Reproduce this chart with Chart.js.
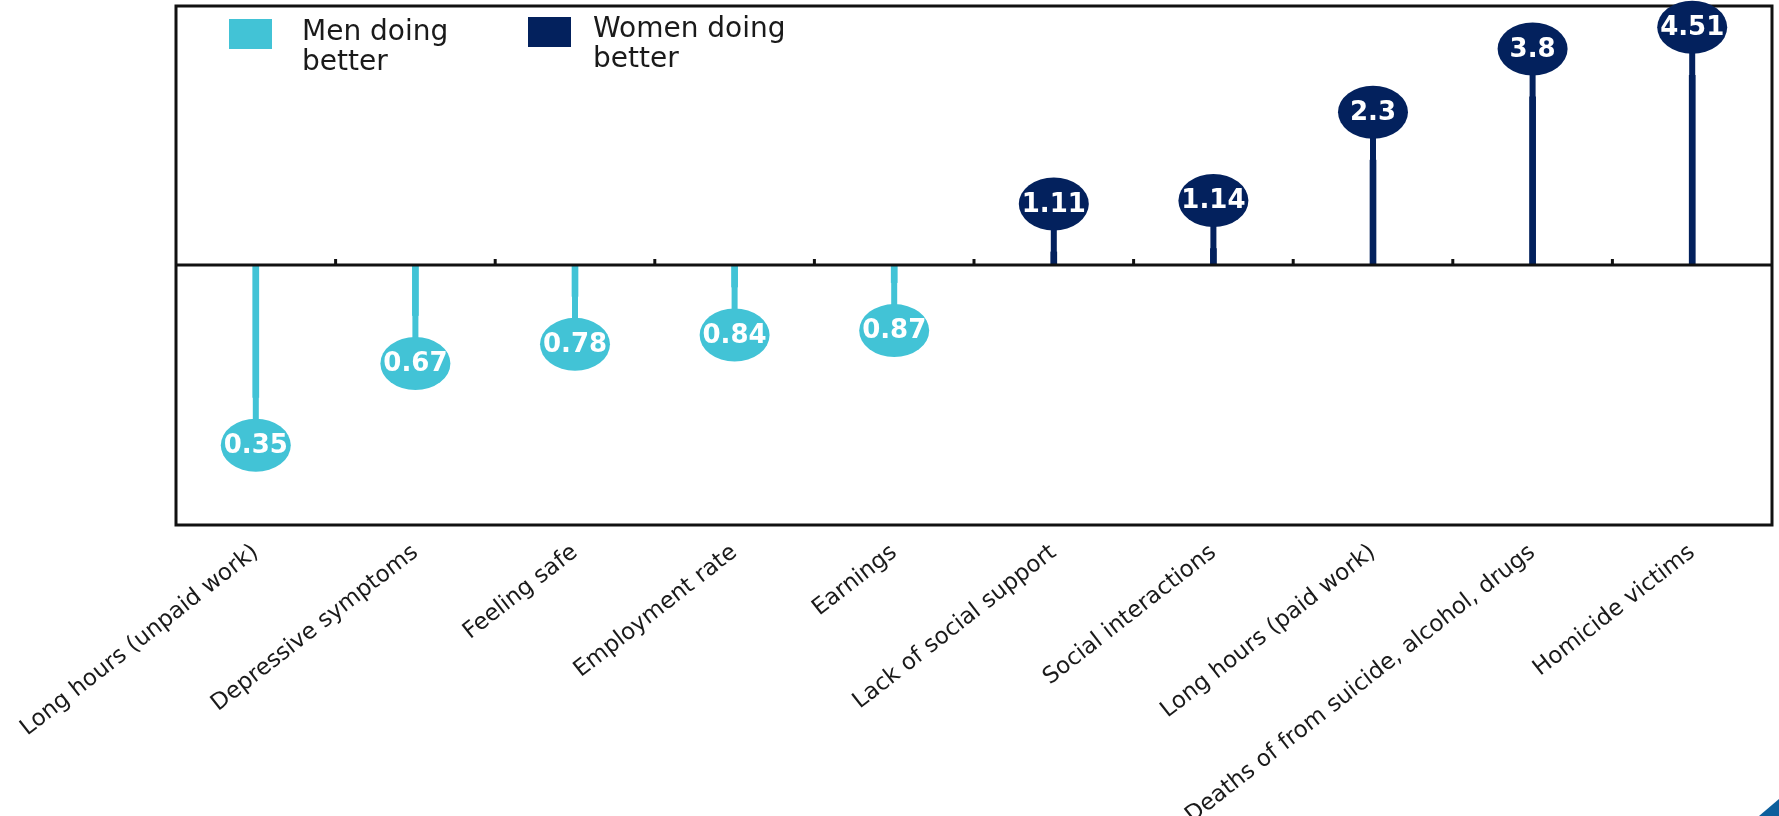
<!DOCTYPE html>
<html lang="en">
<head>
<meta charset="UTF-8" />
<title>Men and women doing better</title>
<script src="https://cdn.jsdelivr.net/npm/chart.js"></script>
<style>
	html, body {
		margin: 0;
		padding: 0;
		background: #ffffff;
	}

	.wrap {
		position: relative;
		width: 1779px;
		height: 816px;
		overflow: hidden;
	}

	.corner {
		position: absolute;
		right: 0;
		bottom: 0;
		width: 0;
		height: 0;
		border-left: 20px solid transparent;
		border-bottom: 17px solid #0d5f9c;
	}
</style>
</head>
<body>
<div class="wrap">
	<canvas id="chart"></canvas>
	<div class="corner"></div>
</div>

<script>
	// ratio women / men
	const categories = [
		'Long hours (unpaid work)',
		'Depressive symptoms',
		'Feeling safe',
		'Employment rate',
		'Earnings',
		'Lack of social support',
		'Social interactions',
		'Long hours (paid work)',
		'Deaths of from suicide, alcohol, drugs',
		'Homicide victims',
	];
	const ratios = [0.35, 0.67, 0.78, 0.84, 0.87, 1.11, 1.14, 2.3, 3.8, 4.51];
	const valueLabels = ['0.35', '0.67', '0.78', '0.84', '0.87', '1.11', '1.14', '2.3', '3.8', '4.51'];
	const legendLabels = [['Men doing', 'better'], ['Women doing', 'better']];

	const MEN_COLOR = '#42c3d6';
	const WOMEN_COLOR = '#03215d';
	const HEAD_GAP = 48;

	const colorFor = (v) => (v < 1 ? MEN_COLOR : WOMEN_COLOR);

	const lollipopPlugin = {
		id: 'lollipop',
		afterDatasetsDraw(chart) {
			const { ctx, chartArea } = chart;
			const y = chart.scales.y;
			const x = chart.scales.x;
			const base = Math.round(y.getPixelForValue(1));

			ctx.save();

			// stems: the bar from the scale, extended up to the bubble
			const meta = chart.getDatasetMeta(0);
			const heads = meta.data.map((bar, i) => {
				const v = ratios[i];
				const tip = y.getPixelForValue(v);
				const dir = v < 1 ? 1 : -1;
				const cy = tip + dir * HEAD_GAP;
				ctx.fillStyle = colorFor(v);
				ctx.fillRect(bar.x - bar.width / 2, Math.min(base, cy), bar.width, Math.abs(cy - base));
				return { x: bar.x, cy, v, label: valueLabels[i] };
			});

			// frame + baseline
			ctx.strokeStyle = '#111111';
			ctx.lineWidth = 3;
			ctx.strokeRect(chartArea.left, chartArea.top, chartArea.right - chartArea.left, chartArea.bottom - chartArea.top);
			ctx.beginPath();
			ctx.moveTo(chartArea.left, base);
			ctx.lineTo(chartArea.right, base);
			ctx.stroke();

			// small ticks between categories
			for (let i = 1; i < categories.length; i++) {
				const px = (x.getPixelForValue(i - 1) + x.getPixelForValue(i)) / 2;
				ctx.beginPath();
				ctx.moveTo(px, base);
				ctx.lineTo(px, base - 6);
				ctx.stroke();
			}

			// bubbles
			heads.forEach((h) => {
				ctx.fillStyle = colorFor(h.v);
				ctx.beginPath();
				ctx.ellipse(h.x, h.cy, 35, 26.5, 0, 0, Math.PI * 2);
				ctx.fill();

				ctx.fillStyle = '#ffffff';
				ctx.font = 'bold 26px "DejaVu Sans"';
				ctx.textAlign = 'center';
				ctx.textBaseline = 'middle';
				ctx.fillText(h.label, h.x, h.cy + 1);
			});

			// legend
			const items = [
				{ color: MEN_COLOR, box: [229, 19], text: [302, 40], lines: legendLabels[0] },
				{ color: WOMEN_COLOR, box: [528, 17], text: [593, 37], lines: legendLabels[1] },
			];
			ctx.font = '28px "DejaVu Sans"';
			ctx.textAlign = 'left';
			ctx.textBaseline = 'alphabetic';
			items.forEach((item) => {
				ctx.fillStyle = item.color;
				ctx.fillRect(item.box[0], item.box[1], 43, 30);
				ctx.fillStyle = '#1a1a1a';
				item.lines.forEach((line, j) => {
					ctx.fillText(line, item.text[0], item.text[1] + j * 30);
				});
			});

			ctx.restore();
		},
	};

	new Chart(document.getElementById('chart'), {
		type: 'bar',
		data: {
			labels: categories,
			datasets: [{
				data: ratios.map((v) => [1, v]),
				backgroundColor: ratios.map(colorFor),
				borderWidth: 0,
				barThickness: 6,
			}],
		},
		options: {
			responsive: true,
			maintainAspectRatio: false,
			animation: false,
			layout: {
				padding: { left: 176, right: 7, top: 6, bottom: 0 },
			},
			plugins: {
				legend: { display: false },
				tooltip: { enabled: false },
			},
			scales: {
				x: {
					grid: { display: false },
					border: { display: false },
					ticks: {
						autoSkip: false,
						minRotation: 38,
						maxRotation: 38,
						padding: 6,
						color: '#1a1a1a',
						font: { family: '"DejaVu Sans"', size: 23 },
					},
					afterFit(scale) {
						scale.height = 291;
					},
				},
				y: {
					type: 'logarithmic',
					display: false,
					min: 0.127,
					max: 7.82,
				},
			},
		},
		plugins: [lollipopPlugin],
	});
</script>
</body>
</html>
